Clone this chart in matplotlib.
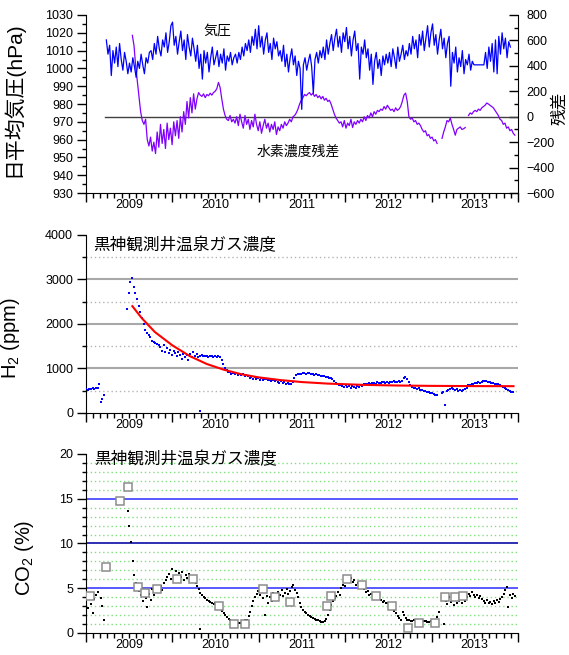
import datetime as dt

import matplotlib
matplotlib.use("Agg")
import matplotlib.dates as mdates
import matplotlib.pyplot as plt
import matplotlib.transforms as mtransforms
import numpy as np
import pandas as pd
from matplotlib.ticker import MultipleLocator, NullFormatter

plt.rcParams["font.family"] = ["Liberation Sans", "Noto Sans CJK JP"]
plt.rcParams["mathtext.fontset"] = "custom"
plt.rcParams["mathtext.rm"] = "Liberation Sans"
plt.rcParams["mathtext.default"] = "regular"

nan = np.nan

# daily mean pressure (hPa), weekly samples from 2009-03-28
pressure_start = "2009-03-28"
pressure = [
    1016, 1008, 1013, 996, 1010, 1003, 1012, 1001, 1014, 1005, 999, 1009, 1004, 997,
    1003, 998, 1006, 1001, 995, 1004, 1000, 1008, 1002, 997, 1006, 1003, 1009,
    1010, 1005, 1014, 1008, 1018, 1011, 1007, 1016, 1012, 1020, 1009, 1015, 1024,
    1026, 1013, 1018, 1008, 1015, 1021, 1010, 1016, 1005, 1019, 1012, 1007, 1017,
    1011, 1004, 1013, 1000, 1008, 994, 1010, 1003, 1009, 998, 1006, 1012, 1002,
    1006, 1010, 1001, 1008, 1003, 1011, 999, 1007, 1004, 1009, 1002, 1006, 1008,
    1003, 1009, 1005, 1012, 1007, 1014, 1010, 1016, 1009, 1018, 1013, 1022, 1011,
    1024, 1012, 1018, 1008, 1016, 1020, 1009, 1014, 1005, 1017, 1011, 1015, 1007,
    1010, 1004, 1013, 1001, 1008, 998, 1006, 1011, 1002, 1007, 996, 1004, 1000,
    977, 1002, 1006, 999, 1004, 1008, 1001, 986, 1005, 1009, 1003, 1010, 1006,
    1012, 1005, 1016, 1008, 1014, 1019, 1010, 1017, 1022, 1012, 1018, 1009, 1020,
    1015, 1023, 1011, 1018, 1007, 1016, 1021, 1010, 1014, 994, 1012, 1008, 1016,
    1006, 1011, 999, 1008, 991, 1004, 1009, 1000, 1005, 996, 1007, 1002, 1008,
    1003, 1009, 1001, 1011, 1006, 1000, 1012, 1004, 1008, 1013, 1005, 1010, 1007,
    1014, 1008, 1018, 1011, 1016, 1006, 1019, 1013, 1021, 1010, 1017, 1024, 1012,
    1020, 1025, 1013, 1019, 1008, 1016, 1022, 1011, 1017, 1006, 1014, 1018, 990,
    1009, 1003, 1012, 998, 1006, 1001, 1010, 997, 1005, 1002, 1008, 999, 1004,
    1002, 1002, 1002, 1002, 1002, 1002, 1002, 1009, 1000, 1012, 1004, 1014, 998,
    1016, 997, 1018, 1008, 1020, 1011, 1017, 1006, 1015, 1012,
]

# hydrogen concentration residual, weekly samples from 2009-07-16
resid_start = "2009-07-16"
resid = [
    640, 560, 400, 280, 160, 40, -30, -60, -20, -180, -230, -160,
    -270, -200, -290, -120, -240, -60, -210, -100, -250, -50, -180, -90, -220, -40, -150,
    -30, -170, 0, -120, 40, -60, 120, -10, 150, 30, 180, 60, 140, 190,
    170, 160, 180, 150, 175, 165, 185, 170, 190, 200, 220, 270,
    230, 140, 60, 10, -20, -30, 10, -40, -20,
    -50, 0, -70, 20, -40, -90, 10, -60, -20, -100, -30, -80, 20, -60, -110, -40,
    -130, -70, -20, -90, -50, -120, -60, -100, -40, -140, -80, -110, -60, -90, -40, -70,
    -50, -20, -40, 0, 10, 30,
    60, 100, 130, 150, 175, 165,
    180, 190, 170, 185, 160, 175, 150, 165, 140, 160, 130, 145, 120, 130,
    100, 60, 20, -10, -30, -50,
    -40, -80, -30, -90, -50, -70, -20, -85, -40, -60, -30,
    -50, -20, -40, 0, -30, 10, -10, 30, 0, 40, 20, 50, 40,
    60, 50, 80, 60, 90, 70, 50, 60, 40, 70, 50, 60, 80,
    120, 170, 186, 120,
    0, -20, -10, -40, -30, -60, -50, -70,
    -100, -120, -110, -150, -140, -170, -160, -190, -180, -210,
    nan, nan,
    -170, -120, -80, -30, -40, -10, -60, -100, -145, -100, -90, -80, -100, -95, -85,
    nan,
    10, 30, 20, 40, 50, 40, 60, 50, 70, 80, 90, 108,
    100, 90, 80, 70, 50, 30,
    10, -20, -30,
    -60, -50, -90, -80, -110, -100, -130, -145,
]

# H2 (ppm), weekly samples in three runs
h2_a_start = "2009-01-01"
h2_a = [530, 520, 545, 530, 550, 540, 560, 555, 650]
h2_b_start = "2009-03-04"
h2_b = [250, 320, 400]
h2_c_start = "2009-06-24"
h2_c = [
    2330, 2700, 2950, 3030, 2830, 2690, 2550, 2400, 2270, 2140,
    2000, 1870, 1800, 1760, 1700, 1620, 1590, 1570, 1550, 1520,
    1480, 1400, 1520, 1380, 1450, 1340, 1420, 1300, 1390, 1350, 1280, 1370, 1300, 1220, 1330, 1260,
    1300, 1200, 1330, 1250, 1380, 1270, 1320, 1260,
    1290, 1300, 1280, 1270, 1290, 1260, 1280, 1270, 1260, 1280, 1250, 1270, 1260,
    1200, 1100, 1000, 960, 930,
    910, 880, 900, 870, 890, 860, 880, 850, 870, 840, 860,
    820, 790, 810, 770, 800, 760, 790, 750, 780, 740, 770, 760, 730, 750, 720, 740, 710, 730,
    700, 680, 710, 670, 690, 650, 680, 660, 640,
    700, 780, 850, 870,
    880, 870, 890, 900, 880, 900, 890, 870, 880, 860, 870, 850, 860,
    840, 830, 820, 810, 800, 790, 780, 760,
    720, 680, 650, 630, 620,
    610, 590, 620, 580, 600, 570, 610, 590, 560, 600, 580, 620, 600, 640,
    660, 650, 670, 660, 680, 670, 660, 690, 680, 670, 690, 700, 680, 690, 670, 700,
    690, 710, 700, 690, 710, 700, 720,
    780, 815, 770,
    690, 620, 590,
    570, 560, 540, 550, 520, 510, 500, 490, 470, 480, 460, 440, 430, 410, 395,
    nan, nan,
    450, 470, 180,
    500, 520, 540, 560,
    530, 510, 540, 500, 520, 490, 510, 530, 560,
    630, 620, 640,
    660, 670, 680, 690, 680, 700, 710, 720, 715,
    700, 690, 680,
    670, 660, 650, 640, 620,
    600, 580, 560, 540, 520, 500, 480, 470,
]
h2_odd_dates = ["2010-04-27"]
h2_odd = [50]

# fitted decay curve for H2
fit_dates = [
    "2009-07-16", "2009-08-25", "2009-10-19", "2010-01-01", "2010-03-15",
    "2010-05-27", "2010-08-08", "2010-10-20", "2011-01-01", "2011-04-02",
    "2011-07-02", "2011-10-20", "2012-03-15", "2012-08-08", "2013-01-01",
    "2013-07-02", "2013-12-13",
]
fit_h2 = [2400, 2130, 1820, 1520, 1280, 1100, 970, 870, 800, 740,
          695, 660, 632, 617, 609, 604, 602]

# CO2 (%), weekly samples in three runs
co2_a_start = "2009-01-01"
co2_a = [3.5, 2.8, 4.0, 3.2, 2.2, 3.8, 4.3, 4.6]
co2_b_start = "2009-03-04"
co2_b = [3.9, 3.0, 1.4]
co2_c_start = "2009-06-26"
co2_c = [
    13.6, 12.0, 10.2, 8.0, 6.5, 5.6, 5.0, 4.7,
    4.2, 3.6, 4.8, 3.9, 2.9, 4.4, 3.7, 4.9, 4.3, 4.6,
    5.0, 4.6, 5.2, 4.8, 5.6, 5.9, 6.2,
    6.6, 6.0, 7.2, 6.4, 6.9, 6.1, 6.7, 6.3,
    6.8, 5.9, 6.5, 6.1, 6.6, 5.8, 6.2, 5.7,
    5.6, 5.2, 4.9, 4.5, 4.3, 4.0, 3.9,
    3.7, 3.6, 3.5, 3.4, 3.2, 3.4, 3.3, 3.0,
    2.8, 2.5, 2.2, 2.0, 1.8, 1.6, 1.4,
    1.3, 1.2, 1.15, 1.1, 1.1, 1.15, 1.2, 1.3, 1.4, 1.5,
    1.9, 2.4, 3.0, 3.6, 4.0, 4.4,
    4.7, 4.2, 4.9, 3.9, 2.0, 4.1, 3.4,
    4.0, 3.6, 4.5, 4.2, 3.8, 4.6, 4.3, 4.8, 4.1, 4.5, 4.9, 4.4,
    4.7, 5.1, 5.4, 4.8, 4.5,
    4.0, 3.4, 2.9, 2.6,
    2.4, 2.2, 2.0, 1.9, 1.8, 1.7,
    1.6, 1.5, 1.4, 1.3, 1.25, 1.2, 1.35,
    1.6, 2.0, 2.6, 3.1, 3.6, 3.9,
    4.1, 4.6, 4.3, 5.0, 5.4, 5.2, 5.8, 6.2, 5.9,
    6.1, 5.7, 5.9, 5.4, 5.6, 5.2, 5.3, 5.0,
    4.9, 4.6, 4.7, 4.3, 4.4, 4.1, 4.2, 4.0, 3.9,
    3.8, 3.7, 3.5, 3.6, 3.4, 3.3, 3.2, 3.0,
    2.8, 2.5, 2.2, 1.9, 1.7, 1.5,
    2.35,
    2.0, 1.7, 1.5, 1.4, 1.3, 1.3, 1.4, 1.45, 1.35, 1.3, 1.25, 1.3, 1.35, 1.3,
    1.2, 1.25, 1.3, 1.2, 1.3, 1.45, 1.8, 2.35,
    nan,
    3.8, 1.0, 3.6, 3.2, 4.0, 3.5, 3.7, 3.1, 3.9, 3.4, 3.6, 3.8, 3.3, 3.9, 3.6, 4.0,
    4.4, 4.1, 4.6, 4.2, 4.0, 4.3, 3.9, 4.1, 3.8,
    3.6, 3.3, 3.7, 3.4, 3.5, 3.2, 3.6, 3.4, 3.7, 3.5, 3.8, 4.0,
    4.4, 4.8, 5.1, 2.9,
    4.2, 3.9, 4.4, 4.1,
]
co2_odd_dates = ["2010-04-27"]
co2_odd = [0.4]

# CO2 spot samples (squares)
co2_spot_dates = [
    "2009-01-19", "2009-03-28", "2009-05-23", "2009-06-28", "2009-08-11",
    "2009-09-06", "2009-10-27", "2010-01-19", "2010-03-29", "2010-07-16",
    "2010-09-20", "2010-11-03", "2011-01-19", "2011-03-11", "2011-05-12",
    "2011-10-16", "2011-11-03", "2012-01-11", "2012-03-14", "2012-05-12",
    "2012-07-16", "2012-09-24", "2012-11-10", "2013-01-15", "2013-02-28",
    "2013-04-10", "2013-05-12",
]
co2_spot = [4.1, 7.4, 14.7, 16.3, 5.1, 4.5, 4.9, 6.0, 6.0, 3.0,
            1.0, 1.0, 4.9, 4.0, 3.5, 3.0, 4.1, 6.0, 5.4, 4.1,
            3.0, 0.6, 1.1, 1.1, 4.0, 4.0, 4.1]

years = [2009, 2010, 2011, 2012, 2013]
title = "黒神観測井温泉ガス濃度"


def weekly(start, values):
    return pd.date_range(start, periods=len(values), freq="7D")


def setup_time_axis(ax):
    ax.set_xlim(dt.datetime(2009, 1, 1), dt.datetime(2014, 1, 1))
    ax.xaxis.set_major_locator(mdates.YearLocator())
    ax.xaxis.set_minor_locator(mdates.MonthLocator())
    ax.xaxis.set_major_formatter(NullFormatter())
    ax.tick_params(axis="x", which="major", direction="out", length=6.5, width=1)
    ax.tick_params(axis="x", which="minor", direction="out", length=3.4, width=1)
    trans = mtransforms.blended_transform_factory(ax.transData, ax.transAxes)
    for yr in years:
        ax.text(dt.datetime(yr, 7, 2), -0.035, str(yr), transform=trans,
                ha="center", va="top", fontsize=9)


def setup_left(ax, major, minor):
    ax.yaxis.set_major_locator(MultipleLocator(major))
    ax.yaxis.set_minor_locator(MultipleLocator(minor))
    ax.tick_params(axis="y", which="major", direction="out", length=6.3, width=1,
                   labelsize=9, pad=3)
    ax.tick_params(axis="y", which="minor", direction="out", length=3.2, width=1)


fig = plt.figure(figsize=(5.69, 6.55), dpi=100)

# pressure and residual
ax1 = fig.add_axes([0.1511, 0.7053, 0.7592, 0.2718])
ax1r = ax1.twinx()
ax1.plot(weekly(pressure_start, pressure), pressure, color="#0000ff", lw=0.9, zorder=3)
ax1.set_ylim(930, 1030)
setup_left(ax1, 10, 5)
setup_time_axis(ax1)
ax1.set_ylabel("日平均気圧(hPa)", fontsize=15)
ax1.yaxis.set_label_coords(-0.146, 0.528)
ax1.spines["top"].set_visible(False)
ax1.spines["right"].set_visible(False)

ax1r.plot([dt.datetime(2009, 3, 22), dt.datetime(2014, 1, 1)], [0, 0],
          color="#404040", lw=1)
ax1r.plot(weekly(resid_start, resid), resid, color="#8000ff", lw=0.9)
ax1r.set_ylim(-600, 800)
ax1r.yaxis.set_major_locator(MultipleLocator(200))
ax1r.yaxis.set_minor_locator(MultipleLocator(100))
ax1r.tick_params(axis="y", which="major", direction="in", length=6.3, width=1,
                 labelsize=9, pad=6)
ax1r.tick_params(axis="y", which="minor", direction="in", length=3.2, width=1)
for side in ("top", "left", "bottom"):
    ax1r.spines[side].set_visible(False)
ax1r.set_ylabel("残差", fontsize=12, rotation=90)
ax1r.yaxis.set_label_coords(1.078, 0.478)
ax1.set_zorder(ax1r.get_zorder() + 1)
ax1.patch.set_visible(False)

ax1.text(0.305, 0.91, "気圧", transform=ax1.transAxes, ha="center", va="center",
         fontsize=10)
ax1.text(0.491, 0.23, "水素濃度残差", transform=ax1.transAxes, ha="center",
         va="center", fontsize=10)

# H2
ax2 = fig.add_axes([0.1511, 0.3695, 0.7592, 0.2718])
for v in (500, 1500, 2500, 3500):
    ax2.axhline(v, color="#b4b4b4", lw=1, ls=(0, (1, 2)), zorder=1)
for v in (1000, 2000, 3000):
    ax2.axhline(v, color="#a8a8a8", lw=1.5, zorder=1)
dot = dict(ls="none", marker="s", ms=2.0, mew=0, color="#0000ff", zorder=3)
ax2.plot(weekly(h2_a_start, h2_a), h2_a, **dot)
ax2.plot(weekly(h2_b_start, h2_b), h2_b, **dot)
ax2.plot(weekly(h2_c_start, h2_c), h2_c, **dot)
ax2.plot(pd.to_datetime(h2_odd_dates), h2_odd, **dot)
ax2.plot(pd.to_datetime(fit_dates), fit_h2, color="#ff0000", lw=1.5, zorder=4)
ax2.set_ylim(0, 4000)
setup_left(ax2, 1000, 500)
setup_time_axis(ax2)
ax2.spines["top"].set_visible(False)
ax2.spines["right"].set_visible(False)
ax2.set_ylabel(r"H$_2$ (ppm)", fontsize=14.5)
ax2.yaxis.set_label_coords(-0.148, 0.42)
ax2.text(0.016, 0.944, title, transform=ax2.transAxes, ha="left", va="center",
         fontsize=12)

# CO2
ax3 = fig.add_axes([0.1511, 0.0336, 0.7592, 0.2733])
for v in range(1, 20):
    if v % 5:
        ax3.axhline(v, color="#80e080", lw=1, ls=(0, (1, 2)), zorder=1)
ax3.axhline(5, color="#3c3cff", lw=1.2, zorder=1)
ax3.axhline(10, color="#0a0aa8", lw=1.2, zorder=1)
ax3.axhline(15, color="#3c3cff", lw=1.2, zorder=1)
dot_k = dict(ls="none", marker="s", ms=1.8, mew=0, color="black", zorder=3)
ax3.plot(weekly(co2_a_start, co2_a), co2_a, **dot_k)
ax3.plot(weekly(co2_b_start, co2_b), co2_b, **dot_k)
ax3.plot(weekly(co2_c_start, co2_c), co2_c, **dot_k)
ax3.plot(pd.to_datetime(co2_odd_dates), co2_odd, **dot_k)
ax3.plot(pd.to_datetime(co2_spot_dates), co2_spot, ls="none", marker="s", ms=6,
         mfc="white", mec="#8c8c8c", mew=1.1, zorder=4)
ax3.set_ylim(0, 20)
setup_left(ax3, 5, 1)
setup_time_axis(ax3)
ax3.spines["top"].set_visible(False)
ax3.spines["right"].set_visible(False)
ax3.set_ylabel(r"CO$_2$ (%)", fontsize=14.5)
ax3.yaxis.set_label_coords(-0.116, 0.42)
ax3.text(0.0185, 0.972, title, transform=ax3.transAxes, ha="left", va="center",
         fontsize=12)

fig.savefig("out.png", dpi=100)
